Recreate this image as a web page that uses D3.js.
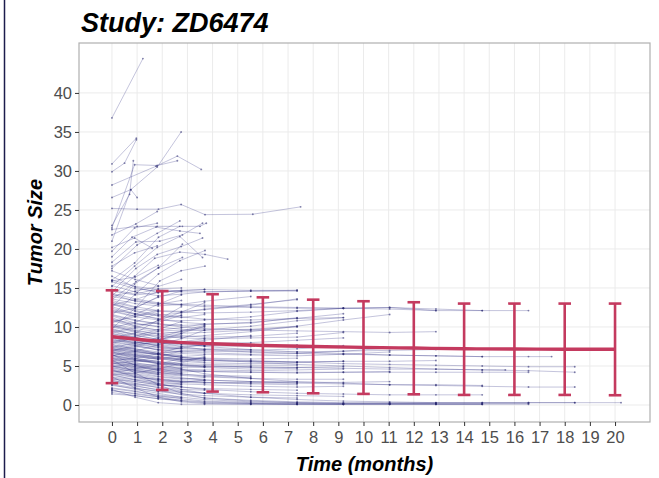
<!DOCTYPE html>
<html>
<head>
<meta charset="utf-8">
<script src="https://cdn.jsdelivr.net/npm/d3@7"></script>
<style>
  body { margin: 0; background: #fff; }
  svg { display: block; font-family: "Liberation Sans", Arial, sans-serif; }
  .tick text { fill: #4d4d4d; font-size: 16.5px; }
  .tick line { stroke: #333; }
</style>
</head>
<body>
<svg id="chart" width="659" height="478"></svg>
<script>
var _ = null;

// scheduled visit times (months)
var visitTimes = [0, 0.92, 1.84, 2.76, 3.68, 4.6, 5.52, 6.44, 7.36, 8.28, 9.2, 10.12,
                  11.04, 11.96, 12.88, 13.8, 14.72, 15.64, 16.56, 17.48, 18.4, 19.32, 20.24];

var xTicks = d3.range(0, 21);
var yTicks = [0, 5, 10, 15, 20, 25, 30, 35, 40];

// mean +/- sd summary
var meanTimes  = [0, 2, 4, 6, 8, 10, 12, 14, 16, 18, 20];
var meanValues = [8.75, 8.15, 7.85, 7.63, 7.5, 7.38, 7.3, 7.2, 7.18, 7.15, 7.15];
var sdUpper    = [14.7, 14.6, 14.2, 13.8, 13.5, 13.3, 13.17, 13.0, 13.0, 13.0, 13.0];
var sdLower    = [2.8, 1.93, 1.72, 1.63, 1.5, 1.42, 1.37, 1.29, 1.29, 1.29, 1.25];

// patients that grow out of the band, [time, size] pairs
var progressors = [
  [[0,36.8],[1.23,44.4]],
  [[0,30.9],[0.97,34.2]],
  [[0,29.9],[0.5,31],[0.97,34.0]],
  [[0,28.2],[1.75,30.6],[2.6,31.9],[3.55,30.2]],
  [[0,25.2],[1,25.1],[1.85,25.1],[2.75,25.7],[3.7,24.4],[5.6,24.45],[7.5,25.4]],
  [[0,26.6],[0.75,27.6],[1.8,30.5],[2.75,35.0]],
  [[0,23],[0.7,27],[0.85,31.3]],
  [[0,22.7],[0.9,30.8],[1.8,30.7],[2.6,31.3]],
  [[0,21],[0.75,27.6],[1.0,26.6]],
  [[0,22.5],[1,22.9],[1.8,22.9],[2.8,22.9],[3.5,22.9],[3.75,23.3]],
  [[0,19],[0.8,21.5],[1.75,22.8],[2.7,22.3],[3.5,22.0]],
  [[0,17.5],[1.0,20.5],[1.8,22.0],[2.7,23.6]],
  [[0,16],[0.9,18.2],[1.85,21.5],[2.7,22.9]],
  [[0,18.3],[0.95,20.9],[1.9,21.0],[2.8,21.8],[3.6,23.3]],
  [[0,20.2],[0.9,21.4],[1.6,20.1]],
  [[0,14.5],[0.95,17.5],[1.8,19.3],[2.75,20.3],[3.6,21.4]],
  [[0,12.5],[0.9,15.5],[1.85,17.6],[2.8,20.6]],
  [[0,15.2],[0.9,17.8],[1.8,20.2],[2.7,21.6],[3.6,18.9]],
  [[0,11.5],[1.0,14.4],[1.85,16.8],[2.7,18.5],[3.7,19.8]],
  [[0,13.5],[0.95,15.8],[1.85,17.6],[2.8,18.9]],
  [[0,9.8],[0.95,12.5],[1.9,15.9],[2.75,17.2],[3.7,17.8]],
  [[0,17.8],[0.9,19.5],[1.8,20.4]],
  [[0,21.8],[0.95,23.2],[1.8,24.8]],
  [[0,19.7],[0.9,22.7],[1.8,23.3]],
  [[0,14.0],[0.9,16.5],[1.7,18.8],[2.7,19.6],[3.7,19.3],[4.6,18.7]]
];

// sizes at visitTimes index, short follow-up
var earlyDropouts = [
  [5.2,4.8,4.5,4.3], [6.1,5.5,5.8], [7.4,7.9,8.6,9.5,10.2], [3.3,3.0,2.6,2.4],
  [10.5,11.6,12.9,14.1], [8.2,7.6,7.1,7.3,7.8], [12.1,11.4,12.2], [4.4,3.8,3.1,2.9,3.2],
  [6.8,6.2,5.9,6.3], [9.3,9.9,10.8,11.9,13.1], [2.5,2.1,1.8,1.6], [14.8,14.2,14.9,15.0],
  [5.7,6.0,6.6,7.4], [11.2,10.1,9.6,9.9,10.4], [7.9,8.6,9.4], [3.9,4.1,4.6,5.4,6.1],
  [16.5,15.1,14.4], [6.5,5.1,4.6,4.2,4.4], [9.7,8.9,8.4,8.8], [4.9,5.3,5.1,5.6,6.2],
  [13.2,12.5,13.8,14.6], [8.6,9.2,10.9,12.6], [1.8,1.5,1.1,0.9], [6.3,6.9,7.7,8.5,9.6],
  [10.9,10.2,10.6,11.5], [5.5,4.9,4.4,4.1], [7.1,6.4,6.0,5.8,6.0], [12.8,13.5,14.5,_,14.8],
  [3.6,3.2,2.8,2.7], [9.0,8.2,7.5,7.2], [15.9,16.4,17.9], [4.2,4.6,5.2,6.0],
  [8.9,8.3,7.9,8.1,8.5], [6.0,5.7,5.5,5.2], [11.8,12.4,13.9], [2.9,2.6,2.3,2.0,1.9],
  [7.6,7.0,6.6,6.9], [10.1,9.5,9.1,9.4,10.0], [5.0,4.5,4.0,3.7], [13.9,14.6,15.2,16.1],
  [6.7,6.4,6.1,5.8,5.5], [8.0,8.8,9.7,10.7], [4.7,4.3,3.9], [9.5,8.7,8.1,7.9,8.1],
  [3.1,2.7,2.5,2.6], [7.3,6.7,6.5,6.2,6.4], [12.4,11.6,11.1,11.5], [5.9,5.4,5.0,4.8,4.9],
  [17.2,16.1,15.3], [1.4,1.2,0.8,0.6], [6.9,7.4,8.3,9.1], [4.0,3.5,3.3,3.0,3.1],
  [10.7,11.3,12.0], [8.4,7.7,7.0,6.8,7.0], [5.3,5.6,6.2,6.9], [14.2,13.3,12.9,13.4]
];

var midFollowUp = [
  [6.4,5.8,5.3,5.0,4.8,_,4.6,_,4.7],
  [9.8,9.0,8.4,8.1,7.9,_,8.0,_,8.3,_,8.6],
  [4.5,3.9,3.4,3.1,2.9,_,2.7,_,2.6],
  [12.6,11.7,11.0,10.6,10.4,_,10.5,_,11.2],
  [7.7,7.2,6.8,6.6,6.5,_,6.4,_,6.3,_,6.5,_,6.8],
  [3.4,2.8,2.2,1.8,1.5,_,1.3,_,1.2,_,1.1],
  [14.6,14.1,14.4,14.7,14.8,_,14.7,_,14.7],
  [5.8,5.2,4.8,4.6,4.5,_,4.4,_,4.5,_,4.6],
  [10.3,9.6,9.1,8.9,8.7,_,8.8,_,9.2],
  [2.2,1.8,1.2,0.8,0.5,_,0.3,_,0.2,_,0.1],
  [8.1,7.5,7.1,6.8,6.7,_,6.5,_,6.6,_,6.9,_,7.3],
  [6.0,5.1,4.4,4.0,3.7,_,3.5],
  [11.4,10.5,10.0,9.7,9.6,_,9.7,_,10.1,_,10.9,_,11.6],
  [4.1,3.6,3.2,2.9,2.8,_,2.9,_,3.0],
  [13.4,12.6,12.1,12.0,12.2,_,12.8,_,13.6],
  [7.0,6.5,6.1,5.9,5.7,_,5.6,_,5.5,_,5.6],
  [9.1,8.6,8.1,7.8,7.6,_,7.5,_,7.7],
  [1.9,1.4,1.0,0.6,0.4,_,0.2,_,0.1],
  [5.6,5.0,4.7,4.5,4.3,_,4.2,_,4.1,_,4.2,_,4.3],
  [15.8,14.9,14.6,14.5,14.5,_,14.6,_,14.7],
  [8.7,7.9,7.4,7.2,7.1,_,7.0,_,7.2,_,7.6],
  [3.8,3.3,3.0,2.7,2.6,_,2.4,_,2.3,_,2.4],
  [10.8,10.0,9.6,9.5,9.6,_,10.1,_,10.8,_,11.2],
  [6.6,6.0,5.6,5.3,5.2,_,5.1,_,5.1],
  [12.0,11.3,10.9,10.8,10.9,_,11.3,_,12.0,_,12.4],
  [4.8,4.2,3.7,3.4,3.2,_,3.0,_,2.9,_,2.9,_,3.0],
  [7.4,6.9,6.4,6.1,6.0,_,5.9,_,6.0],
  [9.6,9.1,8.8,8.6,8.5,_,8.6,_,8.7,_,9.3],
  [2.7,2.2,1.7,1.4,1.2,_,1.0,_,0.9],
  [13.1,12.1,11.6,11.3,11.0,_,10.9,_,11.1,_,11.2]
];

var moreFollowUp = [
  [7.8,7.1,6.6,6.3], [4.6,4.0,3.6,3.3,3.5], [9.9,10.6,11.8], [6.2,5.7,5.3,5.1,5.0,_,4.9],
  [11.0,10.4,10.1,10.3], [3.0,2.4,2.0,1.7,1.5], [8.3,8.0,7.8,7.9,8.3,_,8.9], [5.1,4.6,4.2,4.0],
  [12.9,12.0,11.4,11.2,11.6], [6.9,6.3,5.9,5.6,5.4,_,5.3,_,5.4], [2.1,1.7,1.3,1.0],
  [10.0,9.3,8.9,8.7,8.9,_,9.4,_,10.1], [7.0,7.6,8.4,9.2,10.1], [4.3,3.7,3.3,3.0,2.9,_,2.8,_,2.8],
  [15.3,14.5,14.0,14.2,14.5,_,14.6,_,14.6], [8.8,8.1,7.6,7.3,7.2,_,7.1], [5.6,5.2,4.9,4.7],
  [13.6,13.0,12.7,12.9,13.3,_,13.9], [6.3,5.8,5.4,5.1,4.9,_,4.8,_,4.8,_,4.9], [9.2,8.5,8.0,7.7,7.6],
  [3.5,3.0,2.6,2.3,2.1,_,2.0,_,1.9], [11.5,10.8,10.4,10.2,10.3,_,10.6,_,11.1,_,11.7],
  [7.2,6.8,6.5,6.4], [4.9,4.4,4.1,3.9,3.8,_,3.7], [16.0,15.2,14.8,14.6],
  [10.4,9.8,9.4,9.2,9.3,_,9.6,_,10.0], [5.4,4.7,4.2,3.8,3.6,_,3.4,_,3.3,_,3.3],
  [8.6,8.0,7.7,7.5,7.6,_,7.8], [6.6,6.2,5.9,5.7], [12.2,11.7,11.5,11.8,12.3,_,12.9,_,13.5]
];

var longFollowUp = [
  [4.5,3.6,2.8,2.0,1.5,_,1.0,_,0.7,_,0.5,_,0.4,_,0.3,_,0.3,_,0.3,_,0.3,_,0.3],
  [3.2,2.5,1.9,1.3,0.9,_,0.6,_,0.4,_,0.3,_,0.3,_,0.3,_,0.3,_,0.3,_,0.3],
  [6.8,6.0,5.3,4.6,4.0,_,3.4,_,3.0,_,2.8,_,2.6,_,2.5,_,2.4,_,2.3,_,2.3],
  [8.0,7.2,6.6,6.1,5.8,_,5.5,_,5.2,_,5.0,_,4.8,_,4.6,_,4.5,_,4.4,_,4.2],
  [7.5,6.9,6.5,6.1,5.9,_,5.7,_,5.5,_,5.3,_,5.2,_,5.1,_,5.0,_,4.9,_,4.9],
  [9.4,8.6,8.0,7.5,7.1,_,6.8,_,6.6,_,6.5,_,6.4,_,6.3,_,6.2,_,6.2,6.2],
  [13.9,13.4,13.0,12.8,12.6,_,12.5,_,12.4,_,12.4,_,12.5,_,12.3,_,12.1,_,12.1],
  [5.4,4.9,4.6,4.4,4.3,_,4.2,_,4.2,_,4.2,_,4.2,_,4.2,_,4.2,_,4.2],
  [14.3,13.6,13.1,12.9,12.8,_,12.6,_,12.5,_,12.4,_,12.3,_,12.1,_,12.1],
  [10.2,9.4,8.6,8.0,7.5,_,7.1,_,6.8,_,6.6,_,6.4,_,6.3,_,6.2],
  [2.6,2.0,1.5,1.0,0.7,_,0.4,_,0.3,_,0.2,_,0.2,_,0.2,_,0.2,_,0.2],
  [5.0,4.4,3.9,3.5,3.2,_,3.0,_,2.8,_,2.7,_,2.6,_,2.6,_,2.5],
  [11.6,10.9,10.4,10.0,9.8,_,9.6,_,9.5,_,9.4,_,9.3,_,9.4],
  [7.2,6.6,6.2,5.9,5.7,_,5.6,_,5.5,_,5.6,_,5.6,_,5.7],
  [12.9,12.3,12.0,11.9,11.8,_,11.9,_,12.1,_,12.4,_,12.5,_,12.1],
  [1.6,1.2,0.8,0.5,0.3,_,0.2,_,0.1,_,0.1,_,0.1,_,0.1,_,0.1],
  [8.5,7.8,7.3,7.0,6.9,_,6.8,_,6.8,_,6.9,_,7.0,_,7.1],
  [3.9,3.2,2.7,2.3,2.0,_,1.7,_,1.5,_,1.4,_,1.3,_,1.3,_,1.3],
  [6.4,5.9,5.5,5.2,5.0,_,4.9,_,4.8,_,4.7,_,4.6,_,4.6,_,4.5,4.5],
  [2.0,1.0,0.3,0.1,0.1,_,0.1,_,0.1,_,0.1,_,0.1,_,0.1,_,0.1],
  [3.6,2.2,1.0,0.4,0.2,_,0.1,_,0.1,_,0.1,_,0.1,_,0.1,_,0.1,_,0.1],
  [5.8,4.1,2.6,1.5,0.9,_,0.5,_,0.3,_,0.2,_,0.2,_,0.2]
];

var svg = d3.select('#chart');
var pLeft = 79, pRight = 650, pTop = 43, pBottom = 422;

var x = d3.scaleLinear().domain([-1.31, 21.39]).range([pLeft, pRight]);
var y = d3.scaleLinear().domain([-2.18, 46.4]).range([pBottom, pTop]);

// dark frame line on the left edge
svg.append('line')
    .attr('x1', 4.5).attr('x2', 4.5).attr('y1', 0).attr('y2', 478)
    .attr('stroke', '#1c1c4c').attr('stroke-width', 1.5);

// grid
var grid = svg.append('g');
grid.selectAll('.gx').data(xTicks).enter().append('line')
    .attr('x1', function(d) { return x(d); }).attr('x2', function(d) { return x(d); })
    .attr('y1', pTop).attr('y2', pBottom)
    .attr('stroke', '#ebebeb').attr('stroke-width', 1);
grid.selectAll('.gy').data(yTicks).enter().append('line')
    .attr('y1', function(d) { return y(d); }).attr('y2', function(d) { return y(d); })
    .attr('x1', pLeft).attr('x2', pRight)
    .attr('stroke', '#ebebeb').attr('stroke-width', 1);

function toPoints(p) {
    if (Array.isArray(p[0])) return p;
    var pts = [];
    p.forEach(function(v, k) {
        if (v !== null) pts.push([visitTimes[k], v]);
    });
    return pts;
}

var patients = progressors.concat(earlyDropouts, midFollowUp, moreFollowUp, longFollowUp).map(toPoints);

var line = d3.line()
    .x(function(d) { return x(d[0]); })
    .y(function(d) { return y(d[1]); });

var spag = svg.append('g');
spag.selectAll('path').data(patients).enter().append('path')
    .attr('d', line)
    .attr('fill', 'none')
    .attr('stroke', '#2b2b80')
    .attr('stroke-opacity', 0.33)
    .attr('stroke-width', 0.85);

var allPts = [];
patients.forEach(function(p) { allPts = allPts.concat(p); });
spag.selectAll('circle').data(allPts).enter().append('circle')
    .attr('cx', function(d) { return x(d[0]); })
    .attr('cy', function(d) { return y(d[1]); })
    .attr('r', 0.95)
    .attr('fill', '#24246e')
    .attr('fill-opacity', 0.55);

// mean line and sd bars
var red = '#c43a5f';
var summary = meanTimes.map(function(t, i) {
    return { t: t, m: meanValues[i], hi: sdUpper[i], lo: sdLower[i] };
});

svg.append('path')
    .datum(summary)
    .attr('d', d3.line()
        .curve(d3.curveMonotoneX)
        .x(function(d) { return x(d.t); })
        .y(function(d) { return y(d.m); }))
    .attr('fill', 'none')
    .attr('stroke', red)
    .attr('stroke-width', 3.4);

var bars = svg.append('g').attr('stroke', red).attr('stroke-width', 2.6);
bars.selectAll('.v').data(summary).enter().append('line')
    .attr('x1', function(d) { return x(d.t); }).attr('x2', function(d) { return x(d.t); })
    .attr('y1', function(d) { return y(d.lo); }).attr('y2', function(d) { return y(d.hi); });
bars.selectAll('.ct').data(summary).enter().append('line')
    .attr('x1', function(d) { return x(d.t - 0.25); }).attr('x2', function(d) { return x(d.t + 0.25); })
    .attr('y1', function(d) { return y(d.hi); }).attr('y2', function(d) { return y(d.hi); });
bars.selectAll('.cb').data(summary).enter().append('line')
    .attr('x1', function(d) { return x(d.t - 0.25); }).attr('x2', function(d) { return x(d.t + 0.25); })
    .attr('y1', function(d) { return y(d.lo); }).attr('y2', function(d) { return y(d.lo); });

// panel border
svg.append('rect')
    .attr('x', pLeft).attr('y', pTop)
    .attr('width', pRight - pLeft).attr('height', pBottom - pTop)
    .attr('fill', 'none').attr('stroke', '#b0b0b0').attr('stroke-width', 1.2);

// axes
var xAxis = svg.append('g')
    .attr('transform', 'translate(0,' + pBottom + ')')
    .call(d3.axisBottom(x).tickValues(xTicks).tickSize(4).tickPadding(5).tickFormat(d3.format('d')));
xAxis.select('.domain').remove();

var yAxis = svg.append('g')
    .attr('transform', 'translate(' + pLeft + ',0)')
    .call(d3.axisLeft(y).tickValues(yTicks).tickSize(4).tickPadding(3));
yAxis.select('.domain').remove();
yAxis.selectAll('text').attr('dy', '0.36em');

// titles
svg.append('text')
    .attr('x', 81).attr('y', 32)
    .style('font-size', '27px').style('font-weight', 'bold').style('font-style', 'italic')
    .attr('fill', '#000')
    .text('Study: ZD6474');

svg.append('text')
    .attr('x', (pLeft + pRight) / 2).attr('y', 471)
    .attr('text-anchor', 'middle')
    .style('font-size', '20px').style('font-weight', 'bold').style('font-style', 'italic')
    .text('Time (months)');

svg.append('text')
    .attr('transform', 'translate(42,' + ((pTop + pBottom) / 2) + ') rotate(-90)')
    .attr('text-anchor', 'middle')
    .style('font-size', '20px').style('font-weight', 'bold').style('font-style', 'italic')
    .text('Tumor Size');
</script>
</body>
</html>
